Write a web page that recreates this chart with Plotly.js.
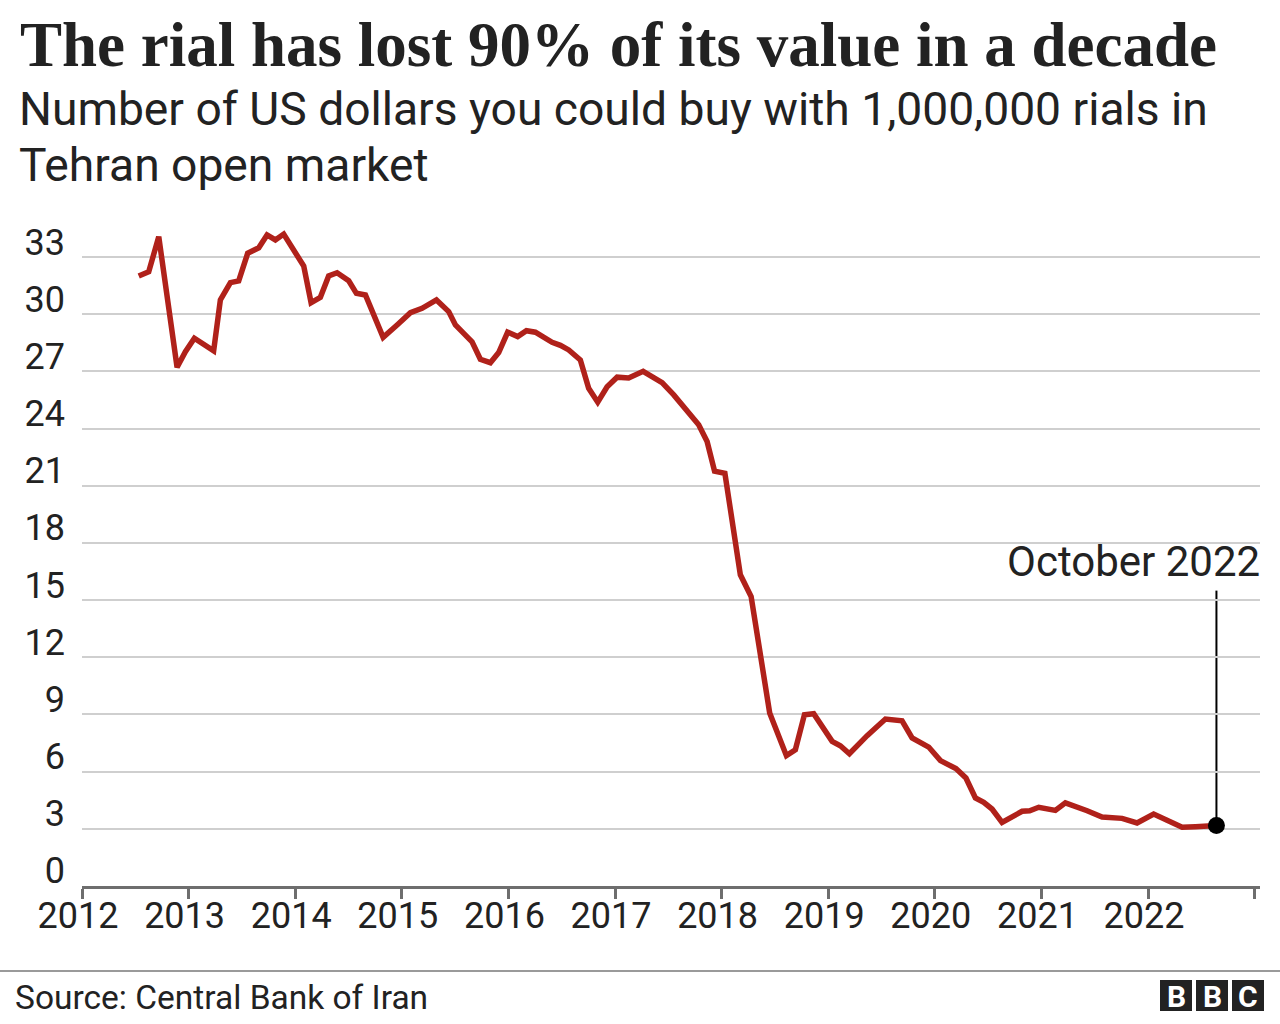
<!DOCTYPE html>
<html>
<head>
<meta charset="utf-8">
<script src="https://cdn.plot.ly/plotly-3.0.1.min.js"></script>
<style>
html,body{margin:0;padding:0;background:#fff;}
#chart{width:1280px;height:1024px;}
</style>
</head>
<body>
<div id="chart"></div>
<script>
// Decimal years of each point
const years = [2012.532,2012.626,2012.720,2012.892,2012.970,2013.054,2013.235,2013.298,2013.392,2013.470,
2013.554,2013.658,2013.736,2013.814,2013.892,2013.986,2014.080,2014.149,2014.236,2014.314,
2014.393,2014.502,2014.574,2014.659,2014.825,2014.956,2015.081,2015.190,2015.325,2015.440,
2015.503,2015.581,2015.659,2015.737,2015.831,2015.909,2015.993,2016.087,2016.169,2016.253,
2016.331,2016.410,2016.488,2016.566,2016.675,2016.753,2016.838,2016.926,2017.020,2017.128,
2017.264,2017.442,2017.551,2017.676,2017.785,2017.864,2017.934,2018.031,2018.099,2018.176,
2018.277,2018.364,2018.451,2018.608,2018.692,2018.777,2018.864,2019.037,2019.114,2019.199,
2019.365,2019.537,2019.693,2019.787,2019.943,2020.053,2020.198,2020.292,2020.381,2020.459,
2020.537,2020.631,2020.724,2020.819,2020.890,2020.975,2021.131,2021.225,2021.429,2021.569,
2021.757,2021.897,2022.053,2022.210,2022.320,2022.445,2022.554,2022.642];
// US dollars per 1,000,000 rials
const dollars = [32.01,32.23,34.07,27.22,28.04,28.74,28.08,30.75,31.66,31.75,
33.20,33.49,34.16,33.90,34.21,33.37,32.53,30.61,30.89,32.01,
32.18,31.76,31.10,31.01,28.79,29.44,30.08,30.31,30.75,30.14,
29.44,29.00,28.56,27.64,27.46,27.99,29.06,28.83,29.14,29.06,
28.79,28.53,28.37,28.13,27.60,26.12,25.39,26.20,26.70,26.66,
27.01,26.41,25.77,24.98,24.20,23.32,21.77,21.66,19.04,16.33,
15.19,12.05,9.08,6.84,7.15,8.99,9.04,7.59,7.36,6.94,
7.89,8.76,8.67,7.77,7.29,6.58,6.16,5.67,4.62,4.39,
4.04,3.34,3.61,3.92,3.95,4.13,3.97,4.36,3.95,3.62,
3.55,3.31,3.78,3.39,3.08,3.11,3.11,3.17];

const yTicks = [0,3,6,9,12,15,18,21,24,27,30,33];
const xTickVals = [2012,2013,2014,2015,2016,2017,2018,2019,2020,2021,2022,2023];
const xTickText = ['2012','2013','2014','2015','2016','2017','2018','2019','2020','2021','2022',''];

const titleText = 'The rial has lost 90% of its value in a decade';
const subtitle1 = 'Number of US dollars you could buy with 1,000,000 rials in';
const subtitle2 = 'Tehran open market';
const sourceText = 'Source: Central Bank of Iran';
const calloutText = 'October 2022';

const L = 82, R = 20, T = 219, B = 138, W = 1280, H = 1024;
const PW = W - L - R, PH = H - T - B;
const px = v => (v - L) / PW;
const py = v => (H - B - v) / PH;

const lastX = years[years.length - 1];
const lastY = dollars[dollars.length - 1];
const SANS = 'Roboto, "Noto Sans", sans-serif';

const traces = [
  {x: years, y: dollars, type: 'scatter', mode: 'lines',
   line: {color: '#b0211a', width: 5.5}, hoverinfo: 'skip'},
  {x: [lastX], y: [lastY], type: 'scatter', mode: 'markers',
   marker: {color: '#000', size: 17}, hoverinfo: 'skip'}
];

const logoBoxes = [[1160,1192],[1196,1228],[1232,1264]];
const shapes = [
  {type: 'line', xref: 'x', yref: 'y', x0: lastX, x1: lastX, y0: lastY, y1: 15.5,
   line: {color: '#000', width: 2}, layer: 'below'},
  {type: 'line', xref: 'paper', yref: 'paper', x0: px(0), x1: px(1280), y0: py(971), y1: py(971),
   line: {color: '#9a9a9a', width: 2}}
];
logoBoxes.forEach(b => shapes.push({type: 'rect', xref: 'paper', yref: 'paper',
  x0: px(b[0]), x1: px(b[1]), y0: py(980), y1: py(1011), fillcolor: '#222', line: {width: 0}}));

const annotations = [
  {text: '<b>' + titleText + '</b>', xref: 'paper', yref: 'paper', x: px(18), y: py(45),
   xanchor: 'left', yanchor: 'middle', showarrow: false,
   font: {family: '"Liberation Serif", serif', size: 63, color: '#222'}},
  {text: subtitle1, xref: 'paper', yref: 'paper', x: px(17), y: py(109),
   xanchor: 'left', yanchor: 'middle', showarrow: false,
   font: {family: SANS, size: 46.2, color: '#222'}},
  {text: subtitle2, xref: 'paper', yref: 'paper', x: px(17), y: py(165),
   xanchor: 'left', yanchor: 'middle', showarrow: false,
   font: {family: SANS, size: 46.2, color: '#222'}},
  {text: sourceText, xref: 'paper', yref: 'paper', x: px(13), y: py(997),
   xanchor: 'left', yanchor: 'middle', showarrow: false,
   font: {family: SANS, size: 33.5, color: '#222'}},
  {text: calloutText, xref: 'paper', yref: 'paper', x: px(1262), y: py(561),
   xanchor: 'right', yanchor: 'middle', showarrow: false,
   font: {family: SANS, size: 42, color: '#222'}}
];
['B','B','C'].forEach((ch, i) => annotations.push({text: '<b>' + ch + '</b>', xref: 'paper', yref: 'paper',
  x: px((logoBoxes[i][0] + logoBoxes[i][1]) / 2), y: py(996), xanchor: 'center', yanchor: 'middle',
  showarrow: false, font: {family: SANS, size: 30, color: '#fff'}}));

const layout = {
  width: W, height: H,
  margin: {l: L, r: R, t: T, b: B, pad: 0},
  paper_bgcolor: '#fff', plot_bgcolor: '#fff',
  showlegend: false,
  xaxis: {range: [2012, 2012 + PW / 106.6], tickmode: 'array', tickvals: xTickVals, ticktext: xTickText,
    ticks: 'outside', ticklen: 10, tickwidth: 3, tickcolor: '#6e6e6e',
    showline: true, linecolor: '#6e6e6e', linewidth: 3, showgrid: false, zeroline: false,
    ticklabelstandoff: -14, ticklabelshift: -4,
    tickfont: {family: SANS, size: 36, color: '#222'}, fixedrange: true},
  yaxis: {range: [0, 35], tickmode: 'array', tickvals: yTicks, ticktext: yTicks.map(String),
    ticks: '', showline: false, showgrid: true, gridcolor: '#cfcfcf', gridwidth: 2, zeroline: false,
    ticklabelposition: 'outside top', ticklabelstandoff: 16, ticklabelshift: 10,
    tickfont: {family: SANS, size: 36, color: '#222'}, fixedrange: true},
  shapes: shapes,
  annotations: annotations
};

Plotly.newPlot('chart', traces, layout, {displayModeBar: false, staticPlot: true});
</script>
</body>
</html>
